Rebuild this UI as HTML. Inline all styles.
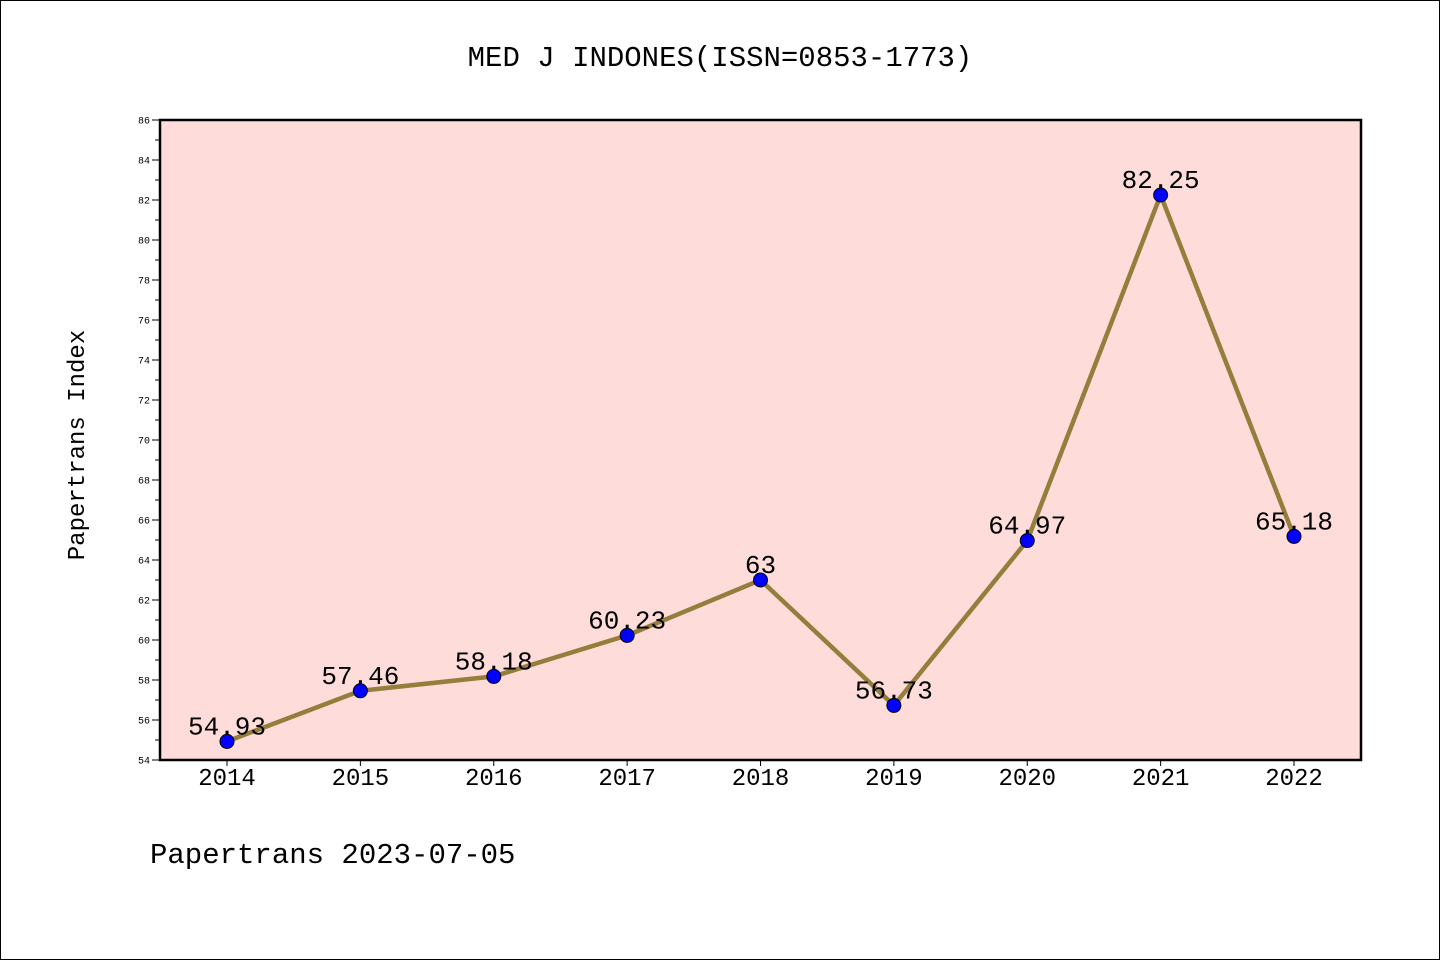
<!DOCTYPE html>
<html><head><meta charset="utf-8"><style>
body{margin:0;background:#fff}
svg{display:block}
text{font-family:"Liberation Mono","WenQuanYi Zen Hei",monospace;fill:#000}
</style></head><body>
<svg width="1440" height="960" id="c">
<rect x="0.5" y="0.5" width="1439" height="959" fill="#fff" stroke="#000"/>
<text x="720" y="66" font-size="29" text-anchor="middle">MED J INDONES(ISSN=0853-1773)</text>
<rect x="160" y="120" width="1201" height="640" fill="#fddcd9" stroke="#000" stroke-width="2.5"/>
<text transform="translate(84,445) rotate(-90)" font-size="24" text-anchor="middle">Papertrans Index</text>
<text x="150" y="863" font-size="29">Papertrans 2023-07-05</text>
<g id="ax"></g><g id="marks"></g>
</svg>
<script>
const years=["2014","2015","2016","2017","2018","2019","2020","2021","2022"];
const values=[54.93,57.46,58.18,60.23,63,56.73,64.97,82.25,65.18];
const valueLabels=["54.93","57.46","58.18","60.23","63","56.73","64.97","82.25","65.18"];
const yMin=54,yMax=86;
const NS="http://www.w3.org/2000/svg";
const xs=i=>227+i*(1294-227)/(years.length-1);
const ys=v=>760-(v-yMin)*640/(yMax-yMin);
function mk(t,a,p){const e=document.createElementNS(NS,t);for(const k in a)e.setAttribute(k,a[k]);p.appendChild(e);return e;}
const ax=document.getElementById('ax'),mg=document.getElementById('marks');
for(let v=yMin;v<=yMax;v++){
 const major=v%2===0;
 const l=mk('line',{x1:160,x2:major?152:155,y1:ys(v),y2:ys(v),stroke:'#000','stroke-width':1},ax);
 
 
 if(major){const t=mk('text',{x:150,y:ys(v)+3.5,'font-size':10,'text-anchor':'end'},ax);t.textContent=v;
 
 }
}
years.forEach((y,i)=>{
 const l=mk('line',{x1:xs(i),x2:xs(i),y1:760,y2:766,stroke:'#000'},ax);
 
 
 const t=mk('text',{x:xs(i),y:785,'font-size':24,'text-anchor':'middle'},ax);t.textContent=y;
 
 
});
const pl=mk('polyline',{points:values.map((v,i)=>xs(i)+','+ys(v)).join(' '),fill:'none',stroke:'#957d3c','stroke-width':4.5},mg);


values.forEach((v,i)=>{
 const c=mk('circle',{cx:xs(i),cy:ys(v),r:7,fill:'#0000ff',stroke:'#000','stroke-width':1},mg);
 
 
 const t=mk('text',{x:xs(i),y:ys(v)-7,'font-size':26,'text-anchor':'middle'},mg);t.textContent=valueLabels[i];
 
 
});
</script>
</body></html>
